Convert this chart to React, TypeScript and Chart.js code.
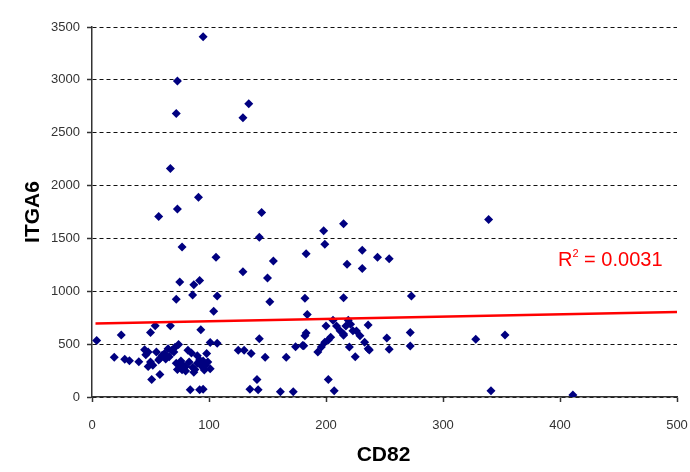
import React, { useEffect, useRef } from "react";
import { Chart, registerables } from "chart.js";

Chart.register(...registerables);

const cd82: number[] = [
  4, 19, 25, 28, 32, 40, 45, 48, 50, 54, 55, 48, 51, 58, 58, 62, 65, 67, 70, 71,
  74, 72, 75, 77, 80, 82, 85, 87, 90, 92, 94, 97, 98, 101, 101, 107, 84, 92, 95, 93,
  46, 50, 52, 57, 60, 63, 66, 68, 73, 76, 78, 80, 83, 86, 88, 90, 95, 96, 99,
  57, 67, 72, 73, 73, 75, 72, 77, 87, 86, 91, 92, 95, 106, 104, 107,
  129, 134, 129, 125, 130, 136, 143, 143, 145, 150, 155, 152, 148, 141, 135, 142, 161, 172, 166, 174, 180, 182,
  181, 183, 182, 183, 184, 198, 199, 200, 202, 207, 193, 196, 199, 202, 204, 206, 209, 212, 215, 217, 219, 220, 221, 223,
  215, 215, 215, 218, 225, 226, 229, 231, 231, 233, 236, 236, 237, 244, 254, 252, 254, 272, 272, 273,
  328, 339, 341, 353, 411,
];

const itga6: number[] = [
  534, 375, 587, 356, 344, 334, 448, 425, 611, 675, 426, 288, 166, 212, 365, 411, 457, 675, 426, 470,
  497, 319, 305, 258, 288, 442, 417, 233, 319, 350, 288, 303, 411, 267, 515, 509, 68, 68, 74, 635,
  400, 330, 300, 350, 395, 360, 380, 440, 260, 340, 300, 245, 330, 280, 260, 390, 340, 255, 330,
  1707, 2161, 2681, 2990, 1779, 1088, 925, 1419, 1062, 964, 1890, 1102, 3408, 1323, 810, 955,
  2641, 2774, 1185, 442, 442, 411, 550, 1510, 1746, 1126, 1286, 902, 375, 166, 74, 68, 49, 49, 375, 476, 488, 580,
  485, 605, 933, 1354, 780, 1572, 1446, 671, 166, 58, 426, 472, 518, 540, 565, 725, 672, 626, 595, 672, 725, 472, 688, 626,
  1639, 939, 584, 1255, 380, 625, 580, 1387, 1215, 518, 457, 681, 445, 1323, 1307, 559, 451, 482, 611, 955,
  546, 1679, 58, 586, 18,
];

const trendX: number[] = [3, 500];
const trendY: number[] = [696, 804];

const xTicks: number[] = [0, 100, 200, 300, 400, 500];
const yTicks: number[] = [0, 500, 1000, 1500, 2000, 2500, 3000, 3500];

const xTitle = "CD82";
const yTitle = "ITGA6";
const r2Label = "0.0031";

export default function App() {
  const ref = useRef<HTMLCanvasElement | null>(null);

  useEffect(() => {
    if (!ref.current) return;
    const points = cd82.map((x, i) => ({ x, y: itga6[i] }));
    const trend = trendX.map((x, i) => ({ x, y: trendY[i] }));

    const textPlugin = {
      id: "texts",
      afterDraw(chart: any) {
        const ctx = chart.ctx as CanvasRenderingContext2D;
        const xs = chart.scales.x;
        const ys = chart.scales.y;
        ctx.save();
        ctx.fillStyle = "#000";
        ctx.textAlign = "center";
        ctx.textBaseline = "middle";
        ctx.font = 'bold 21px Arial, "Liberation Sans", sans-serif';
        ctx.fillText(xTitle, (xs.left + xs.right) / 2 - 1, 455);
        ctx.translate(33, (ys.top + ys.bottom) / 2);
        ctx.rotate(-Math.PI / 2);
        ctx.fillText(yTitle, 0, 0);
        ctx.restore();

        // R^2 label
        ctx.save();
        ctx.fillStyle = "#FF0000";
        ctx.textBaseline = "alphabetic";
        ctx.textAlign = "left";
        let x = 558;
        const base = 266;
        ctx.font = '20px Arial, "Liberation Sans", sans-serif';
        ctx.fillText("R", x, base);
        x += ctx.measureText("R").width;
        ctx.font = '11px Arial, "Liberation Sans", sans-serif';
        ctx.fillText("2", x, base - 9);
        x += ctx.measureText("2").width;
        ctx.font = '20px Arial, "Liberation Sans", sans-serif';
        ctx.fillText(" = " + r2Label, x, base);
        ctx.restore();
      },
    };

    const chart = new Chart(ref.current, {
      type: "scatter",
      data: {
        datasets: [
          {
            type: "scatter",
            data: points,
            pointStyle: "rectRot",
            pointRadius: 4.5,
            pointHoverRadius: 4.5,
            backgroundColor: "#000080",
            borderColor: "#000080",
            borderWidth: 0,
            order: 1,
          },
          {
            type: "line",
            data: trend,
            borderColor: "#FF0000",
            borderWidth: 2.5,
            pointRadius: 0,
            fill: false,
            order: 0,
          } as any,
        ],
      },
      options: {
        responsive: false,
        animation: false,
        events: [],
        layout: { padding: { top: 27, right: 13, left: 0, bottom: 0 } },
        plugins: {
          legend: { display: false },
          tooltip: { enabled: false },
        },
        scales: {
          x: {
            type: "linear",
            min: 0,
            max: 500,
            afterBuildTicks: (scale: any) => {
              scale.ticks = xTicks.map((v) => ({ value: v }));
            },
            afterFit: (scale: any) => {
              scale.height = 75;
              scale.paddingLeft = 0;
              scale.paddingRight = 0;
            },
            ticks: {
              color: "#333",
              font: { family: 'Arial, "Liberation Sans", sans-serif', size: 13 },
              padding: 16,
              maxRotation: 0,
              autoSkip: false,
              callback: (v: any) => String(v),
            },
            grid: {
              drawOnChartArea: false,
              drawTicks: true,
              tickLength: 5,
              color: "#333",
              tickWidth: 1.5,
            },
            border: { display: true, color: "#333", width: 1.5 },
          },
          y: {
            type: "linear",
            min: 0,
            max: 3500,
            afterBuildTicks: (scale: any) => {
              scale.ticks = yTicks.map((v) => ({ value: v }));
            },
            afterFit: (scale: any) => {
              scale.width = 92;
              scale.paddingTop = 0;
              scale.paddingBottom = 0;
            },
            ticks: {
              color: "#333",
              font: { family: 'Arial, "Liberation Sans", sans-serif', size: 13 },
              padding: 7,
              autoSkip: false,
              callback: (v: any) => String(v),
            },
            grid: {
              drawOnChartArea: true,
              drawTicks: true,
              tickLength: 5,
              color: "#111",
              lineWidth: 1,
              tickBorderDash: [],
              tickColor: "#333",
              tickWidth: 1.5,
            } as any,
            border: { display: true, color: "#333", width: 1.5, dash: [4, 3] } as any,
          },
        },
      },
      plugins: [textPlugin],
    });

    return () => chart.destroy();
  }, []);

  return (
    <div style={{ position: "absolute", left: 0, top: 0, width: 690, height: 472, background: "#fff" }}>
      <canvas ref={ref} width={690} height={472} style={{ display: "block" }} />
    </div>
  );
}
